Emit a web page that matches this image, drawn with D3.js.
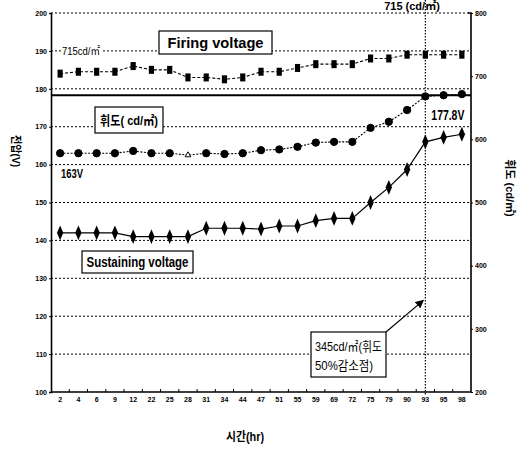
<!DOCTYPE html>
<html>
<head>
<meta charset="utf-8">
<script src="https://cdn.jsdelivr.net/npm/d3@7"></script>
<style>
  body { margin: 0; background: #fff; }
  svg { display: block; }
  text { font-family: "Liberation Sans", "Noto Sans CJK KR", sans-serif; fill: #000; }
</style>
</head>
<body>
<svg id="chart"></svg>
<script>
// hours on the x axis
const hours = ["2", "4", "6", "9", "12", "22", "25", "28", "31", "34", "44", "47",
  "51", "55", "59", "69", "72", "75", "79", "90", "93", "95", "98"];

// voltages (V)
const firingVoltage = [184, 184.5, 184.5, 184.5, 186, 185, 185, 183, 183, 182.5, 183, 184.5,
  184.5, 185.5, 186.5, 186.5, 186.5, 188, 188, 189, 189, 189, 189];
const midVoltage = [163, 163, 163, 163, 163.6, 163, 163, 162.5, 163, 162.8, 163, 163.8,
  164, 164.7, 165.8, 166, 166, 169.7, 171.3, 174.4, 178, 178.3, 178.6];
const sustainVoltage = [142, 142, 142, 142, 141, 141, 141, 141, 143.2, 143.2, 143.2, 143,
  143.8, 143.8, 145.2, 145.8, 145.8, 150, 154, 158.7, 166, 167.2, 168];

const leftTicks = [100, 110, 120, 130, 140, 150, 160, 170, 180, 190, 200];
const rightTicks = [200, 300, 400, 500, 600, 700, 800];

const refVoltage = 178.3;    // thick line (177.8V)
const halfHour = "93";       // 50% point
const halfLum = 345;         // cd/m2

const W = 519, H = 453;
const margin = { top: 13, right: 48, bottom: 61, left: 51 };
const w = W - margin.left - margin.right;
const h = H - margin.top - margin.bottom;

const svg = d3.select("#chart").attr("width", W).attr("height", H);
const g = svg.append("g").attr("transform", `translate(${margin.left},${margin.top})`);

const x = d3.scaleBand().domain(hours).range([0, w]).padding(0);
const y = d3.scaleLinear().domain([100, 200]).range([h, 0]);
const yR = d3.scaleLinear().domain([200, 800]).range([h, 0]);
const cx = d => x(d) + x.bandwidth() / 2;

// dotted gridlines
g.append("g").selectAll("line")
  .data(leftTicks.filter(t => t > 100))
  .join("line")
    .attr("x1", 0).attr("x2", w)
    .attr("y1", d => y(d)).attr("y2", d => y(d))
    .attr("stroke", "#000").attr("stroke-width", 1)
    .attr("stroke-dasharray", "2,2");

// thick reference line
g.append("line")
  .attr("x1", 0).attr("x2", w)
  .attr("y1", y(refVoltage)).attr("y2", y(refVoltage))
  .attr("stroke", "#000").attr("stroke-width", 2.2);

// vertical dotted line at 93 hr
g.append("line")
  .attr("x1", cx(halfHour)).attr("x2", cx(halfHour))
  .attr("y1", -margin.top).attr("y2", h + 4)
  .attr("stroke", "#000").attr("stroke-width", 1.2)
  .attr("stroke-dasharray", "1.5,1.5");

// axes
const leftAxis = g.append("g")
  .call(d3.axisLeft(y).tickValues(leftTicks).tickSize(2).tickPadding(2));
const rightAxis = g.append("g").attr("transform", `translate(${w},0)`)
  .call(d3.axisRight(yR).tickValues(rightTicks).tickSize(2).tickPadding(2));
const bottomAxis = g.append("g").attr("transform", `translate(0,${h})`)
  .call(d3.axisBottom(x).tickSize(0).tickPadding(5));

[leftAxis, rightAxis, bottomAxis].forEach(a => {
  a.select(".domain").attr("stroke", "#000").attr("stroke-width", 1.6);
  a.selectAll("text")
    .attr("font-family", "'Liberation Sans', sans-serif")
    .attr("font-size", 7).attr("font-weight", "bold");
});
bottomAxis.select(".domain").attr("d", `M0,0H${w}`);
rightAxis.select(".domain").attr("d", `M0,${h}V0H-3`);

// small inward ticks at band boundaries on the x axis
g.append("g").selectAll("line")
  .data(hours.slice(1))
  .join("line")
    .attr("x1", d => x(d)).attr("x2", d => x(d))
    .attr("y1", h).attr("y2", h - 3)
    .attr("stroke", "#000").attr("stroke-width", 1);

// series lines
const line = d3.line().x((d, i) => cx(hours[i])).y(d => y(d));

g.append("path").datum(firingVoltage)
  .attr("d", line).attr("fill", "none")
  .attr("stroke", "#000").attr("stroke-width", 1.1).attr("stroke-dasharray", "3,2");
g.append("path").datum(midVoltage)
  .attr("d", line).attr("fill", "none")
  .attr("stroke", "#000").attr("stroke-width", 1.1).attr("stroke-dasharray", "2,1.5");
g.append("path").datum(sustainVoltage)
  .attr("d", line).attr("fill", "none")
  .attr("stroke", "#000").attr("stroke-width", 1.2);

// markers
g.append("g").selectAll("rect")
  .data(firingVoltage)
  .join("rect")
    .attr("x", (d, i) => cx(hours[i]) - 2.6)
    .attr("y", d => y(d) - 4)
    .attr("width", 5.2).attr("height", 8)
    .attr("fill", "#000");

g.append("g").selectAll("path")
  .data(midVoltage)
  .join("path")
    .attr("transform", (d, i) => `translate(${cx(hours[i])},${y(d)})`)
    .attr("d", (d, i) => i === 7
      ? d3.symbol(d3.symbolTriangle, 14)()
      : d3.symbol(d3.symbolCircle, 42)())
    .attr("fill", (d, i) => i === 7 ? "#fff" : "#000")
    .attr("stroke", "#000").attr("stroke-width", 1);

g.append("g").selectAll("path")
  .data(sustainVoltage)
  .join("path")
    .attr("transform", (d, i) => `translate(${cx(hours[i])},${y(d)}) scale(0.85,1.15)`)
    .attr("d", d3.symbol(d3.symbolDiamond, 48))
    .attr("fill", "#000");

// labels and boxes
function box(x0, y0, bw, bh, label, size, tl) {
  g.append("rect")
    .attr("x", x0 - margin.left).attr("y", y0 - margin.top)
    .attr("width", bw).attr("height", bh)
    .attr("fill", "#fff").attr("stroke", "#000").attr("stroke-width", 1.2);
  g.append("text")
    .attr("x", x0 - margin.left + bw / 2).attr("y", y0 - margin.top + bh / 2)
    .attr("dy", "0.36em")
    .attr("text-anchor", "middle")
    .attr("font-size", size).attr("font-weight", "bold")
    .attr("textLength", tl).attr("lengthAdjust", "spacingAndGlyphs")
    .text(label);
}

box(159, 31, 113, 23, "Firing voltage", 14, 96);
box(95, 107, 68, 26, "휘도( cd/㎡)", 13, 58);
box(82, 251, 111, 22, "Sustaining voltage", 14, 102);

// 715cd/m2 text on the 190 gridline
g.append("rect")
  .attr("x", 61 - margin.left).attr("y", y(190) - 6)
  .attr("width", 41).attr("height", 12).attr("fill", "#fff");
g.append("text")
  .attr("x", 62 - margin.left).attr("y", y(190) + 4)
  .attr("font-size", 11)
  .attr("textLength", 38).attr("lengthAdjust", "spacingAndGlyphs")
  .text("715cd/㎡");

g.append("text")
  .attr("x", 61 - margin.left).attr("y", y(163) + 25)
  .attr("font-size", 13).attr("font-weight", "bold")
  .attr("textLength", 22).attr("lengthAdjust", "spacingAndGlyphs")
  .text("163V");

g.append("text")
  .attr("x", cx(halfHour) + 6).attr("y", y(refVoltage) + 25)
  .attr("font-size", 14).attr("font-weight", "bold")
  .attr("textLength", 33).attr("lengthAdjust", "spacingAndGlyphs")
  .text("177.8V");

// 50% annotation with arrow
svg.append("defs").append("marker")
  .attr("id", "arrow")
  .attr("viewBox", "0 0 10 10")
  .attr("refX", 9).attr("refY", 5)
  .attr("markerWidth", 7).attr("markerHeight", 7)
  .attr("orient", "auto")
  .append("path").attr("d", "M0,0L10,5L0,10Z").attr("fill", "#000");

const bx = 311 - margin.left, by = 332 - margin.top;
g.append("line")
  .attr("x1", bx + 75).attr("y1", by)
  .attr("x2", cx(halfHour) - 2).attr("y2", yR(halfLum))
  .attr("stroke", "#000").attr("stroke-width", 1.2)
  .attr("marker-end", "url(#arrow)");
g.append("rect")
  .attr("x", bx).attr("y", by).attr("width", 75).attr("height", 45)
  .attr("fill", "#fff").attr("stroke", "#000").attr("stroke-width", 1.2);
const ann = g.append("text").attr("font-size", 13);
ann.append("tspan").attr("x", bx + 4).attr("y", by + 19)
  .attr("textLength", 67).attr("lengthAdjust", "spacingAndGlyphs")
  .text("345cd/㎡(휘도");
ann.append("tspan").attr("x", bx + 4).attr("y", by + 38)
  .attr("textLength", 58).attr("lengthAdjust", "spacingAndGlyphs")
  .text("50%감소점)");

// top text
svg.append("text")
  .attr("x", 412).attr("y", 10)
  .attr("text-anchor", "middle")
  .attr("font-size", 11).attr("font-weight", "bold")
  .text("715 (cd/㎡)");

// axis titles
svg.append("text")
  .attr("transform", "translate(12,151) rotate(90)")
  .attr("text-anchor", "middle")
  .attr("font-size", 11).attr("font-weight", "bold")
  .attr("textLength", 32).attr("lengthAdjust", "spacingAndGlyphs")
  .text("전압(V)");

svg.append("text")
  .attr("transform", "translate(506,188) rotate(90)")
  .attr("text-anchor", "middle")
  .attr("font-size", 11).attr("font-weight", "bold")
  .text("휘도 (cd/㎡)");

svg.append("text")
  .attr("x", 245).attr("y", 441)
  .attr("text-anchor", "middle")
  .attr("font-size", 12).attr("font-weight", "bold")
  .attr("textLength", 38).attr("lengthAdjust", "spacingAndGlyphs")
  .text("시간(hr)");
</script>
</body>
</html>
